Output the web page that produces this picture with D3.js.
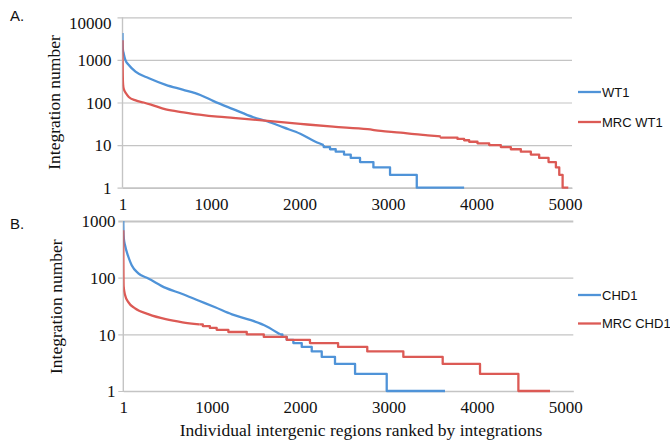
<!DOCTYPE html>
<html><head><meta charset="utf-8">
<script src="https://cdn.jsdelivr.net/npm/d3@7"></script>
<style>body{margin:0;background:#fff}svg{display:block}</style>
</head><body>
<script>
// ---------- data ----------
const xTicks = [1, 1000, 2000, 3000, 4000, 5000];
const yTicksA = [1, 10, 100, 1000, 10000];
const yTicksB = [1, 10, 100, 1000];
const seriesNamesA = ["WT1", "MRC WT1"];
const seriesNamesB = ["CHD1", "MRC CHD1"];

// WT1 (panel A, blue): smooth head then integer steps
const wt1Rank  = [1, 2, 5, 15, 33, 72, 148, 300, 490, 680, 880, 1030, 1250, 1480, 1640, 1820, 2010, 2200, 2274];
const wt1Value = [4300, 2500, 1800, 1400, 1000, 760, 530, 370, 260, 200, 150, 108, 70, 45, 36, 26, 18.5, 11.5, 10];
const wt1StepRank  = [2274, 2346, 2410, 2504, 2580, 2685, 2836, 3024, 3326, 3861];
const wt1StepValue = [9, 8, 7, 6, 5, 4, 3, 2, 1, 1];

// MRC WT1 (panel A, red)
const mrcWt1Rank  = [1, 2, 4, 8, 15, 40, 72, 150, 240, 330, 490, 690, 870, 1075, 1250, 1640, 2010, 2380, 2770, 2920, 3145, 3300, 3450, 3597];
const mrcWt1Value = [2900, 1100, 450, 260, 210, 165, 135, 112, 100, 88, 69, 59, 52, 46.5, 43.5, 37, 31.5, 27, 23.6, 21.5, 19.7, 18, 17, 16];
const mrcWt1StepRank  = [3597, 3786, 3861, 3918, 4012, 4144, 4276, 4389, 4502, 4615, 4709, 4815, 4898, 4936, 4974, 5038];
const mrcWt1StepValue = [15, 14, 13, 12, 11, 10, 9, 8, 7, 6, 5, 4, 3, 2, 1, 1];

// CHD1 (panel B, blue)
const chd1Rank  = [1, 3, 8, 20, 58, 96, 171, 284, 480, 662, 850, 1040, 1230, 1434, 1623, 1773];
const chd1Value = [1000, 650, 480, 376, 234, 166, 119, 97, 66, 52, 39.5, 30, 22.5, 18, 13.8, 10];
const chd1StepRank  = [1800, 1849, 1924, 2019, 2132, 2245, 2395, 2622, 2980, 3639];
const chd1StepValue = [9, 8, 7, 6, 5, 4, 3, 2, 1, 1];

// MRC CHD1 (panel B, red)
const mrcChd1Rank  = [1, 2, 5, 20, 58, 130, 290, 480, 670, 860];
const mrcChd1Value = [690, 200, 70, 50, 37, 29, 22.5, 18.5, 16.3, 15];
const mrcChd1StepRank  = [900, 980, 1057, 1189, 1397, 1590, 1849, 2112, 2430, 2760, 3168, 3613, 4035, 4469, 4827];
const mrcChd1StepValue = [14, 13, 12, 11, 10, 9, 8, 7, 6, 5, 4, 3, 2, 1, 1];

// ---------- drawing ----------
const W = 670, H = 442;
const BLUE = "#4f93d8", RED = "#dc5a55", GRID = "#c4c4c4";
const SERIF = "'Liberation Serif','Times New Roman',serif";
const SANS = "'Liberation Sans',Arial,sans-serif";

const svg = d3.select("body").append("svg").attr("width", W).attr("height", H);
svg.append("rect").attr("width", W).attr("height", H).attr("fill", "#fff");

function panel(cfg) {
  const x = d3.scaleLinear().domain([1, cfg.xMax]).range([cfg.left, cfg.right]);
  const y = d3.scaleLog().domain([1, cfg.yMax]).range([cfg.bottom, cfg.top]);
  const g = svg.append("g");

  const yAxis = d3.axisLeft(y).tickValues(cfg.yTicks).tickFormat(d3.format("d"))
    .tickSize(-(cfg.right - cfg.left)).tickPadding(0);
  const ya = g.append("g").attr("transform", `translate(${cfg.left},0)`).call(yAxis);
  ya.select(".domain").remove();
  ya.selectAll(".tick line").attr("stroke", GRID).attr("stroke-width", 1.2)
    .attr("x1", -5).attr("x2", cfg.right - cfg.left);
  if (cfg.thickTop) ya.selectAll(".tick").filter(d => d === cfg.yMax).select("line").attr("stroke-width", 2.2);
  ya.selectAll(".tick text").attr("font-family", SERIF).attr("font-size", 17).attr("fill", "#111")
    .attr("x", cfg.labelRight - cfg.left).attr("dy", "0.34em")
    .attr("transform", d => d === cfg.yMax && cfg.topShift ? `translate(0,${cfg.topShift})` : null);
  g.append("line").attr("x1", cfg.left).attr("x2", cfg.left).attr("y1", y(cfg.yMax)).attr("y2", cfg.bottom)
    .attr("stroke", GRID).attr("stroke-width", 1.4);

  const xAxis = d3.axisBottom(x).tickValues(xTicks).tickFormat(d3.format("d")).tickSize(0).tickPadding(0);
  const xa = g.append("g").attr("transform", `translate(0,${cfg.bottom})`).call(xAxis);
  xa.select(".domain").attr("stroke", GRID).attr("stroke-width", 1.4);
  xa.selectAll(".tick text").attr("font-family", SERIF).attr("font-size", 17).attr("fill", "#111")
    .attr("y", cfg.xLabelBase - cfg.bottom).attr("dy", 0);

  const cid = "clip" + cfg.id;
  svg.append("clipPath").attr("id", cid).append("rect")
    .attr("x", cfg.left).attr("y", y(cfg.yMax) - 2).attr("width", cfg.right - cfg.left + 2).attr("height", cfg.bottom - y(cfg.yMax) + 4);
  const plot = g.append("g").attr("clip-path", `url(#${cid})`);

  const smooth = d3.line().x(d => x(d[0])).y(d => y(d[1])).curve(d3.curveMonotoneX);
  const stp = d3.line().x(d => x(d[0])).y(d => y(d[1])).curve(d3.curveStepAfter);

  cfg.series.forEach(s => {
    const head = s.rank.map((r, i) => [r, s.value[i]]);
    const tail = [head[head.length - 1]].concat(s.stepRank.map((r, i) => [r, s.stepValue[i]]));
    [[head, smooth], [tail, stp]].forEach(([pts, gen]) => {
      plot.append("path").attr("d", gen(pts)).attr("fill", "none").attr("stroke", s.color)
        .attr("stroke-width", 2.3).attr("stroke-linejoin", "round");
    });
  });

  cfg.series.forEach((s, i) => {
    const ly = cfg.legendY[i];
    g.append("line").attr("x1", 578).attr("x2", 601).attr("y1", ly).attr("y2", ly)
      .attr("stroke", s.color).attr("stroke-width", 2.3);
    g.append("text").attr("x", 602).attr("y", ly).attr("dy", "0.36em").attr("font-family", SANS)
      .attr("font-size", 13).attr("fill", "#111").text(s.name);
  });

  g.append("text").attr("transform", `translate(${cfg.titleX},${cfg.titleY}) rotate(-90)`)
    .attr("text-anchor", "middle").attr("dy", "0.35em").attr("font-family", SERIF).attr("font-size", 17.5)
    .attr("fill", "#111").text("Integration number");

  g.append("text").attr("x", 10).attr("y", cfg.letterY).attr("font-family", SANS).attr("font-size", 15)
    .attr("fill", "#111").text(cfg.letter);
}

panel({
  id: "A", letter: "A.", letterY: 21, xMax: 5080, yMax: 10000, yTicks: yTicksA,
  left: 122.5, right: 572, top: 17.3, bottom: 187.7, labelRight: 111.5, xLabelBase: 210,
  topShift: 5, titleX: 54, titleY: 102.5, legendY: [92, 122],
  series: [
    { name: seriesNamesA[0], color: BLUE, rank: wt1Rank, value: wt1Value, stepRank: wt1StepRank, stepValue: wt1StepValue },
    { name: seriesNamesA[1], color: RED, rank: mrcWt1Rank, value: mrcWt1Value, stepRank: mrcWt1StepRank, stepValue: mrcWt1StepValue }
  ]
});

panel({
  id: "B", letter: "B.", letterY: 229, xMax: 5090, yMax: 1000, yTicks: yTicksB, thickTop: true,
  left: 123.3, right: 573.3, top: 221, bottom: 391, labelRight: 115.5, xLabelBase: 412.5,
  topShift: 0, titleX: 56, titleY: 306.7, legendY: [295, 323.5],
  series: [
    { name: seriesNamesB[0], color: BLUE, rank: chd1Rank, value: chd1Value, stepRank: chd1StepRank, stepValue: chd1StepValue },
    { name: seriesNamesB[1], color: RED, rank: mrcChd1Rank, value: mrcChd1Value, stepRank: mrcChd1StepRank, stepValue: mrcChd1StepValue }
  ]
});

svg.append("text").attr("x", 361).attr("y", 436).attr("text-anchor", "middle")
  .attr("font-family", SERIF).attr("font-size", 17.5).attr("fill", "#111")
  .text("Individual intergenic regions ranked by integrations");
</script>
</body></html>
